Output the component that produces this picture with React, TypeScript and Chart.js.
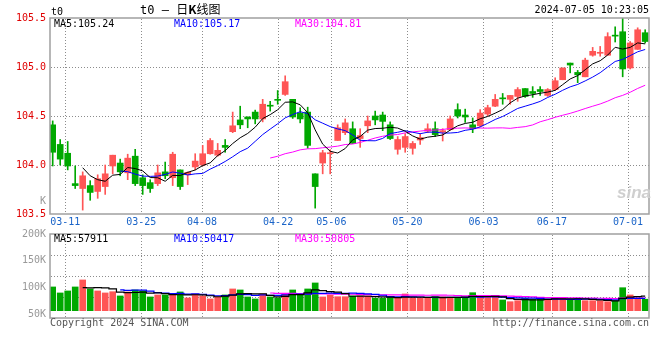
import React, { useEffect, useRef } from 'react';
import { Chart, registerables } from 'chart.js';

Chart.register(...registerables);

// ---- data ----
const OPEN = [104.41,104.21,104.12,103.81,103.76,103.79,103.73,103.78,103.99,104.02,
  103.92,104.09,103.87,103.82,103.81,103.93,103.87,103.95,103.90,103.98,
  104.00,104.115,104.10,104.20,104.34,104.46,104.49,104.54,104.47,104.61,
  104.665,104.72,104.67,104.53,104.54,103.91,104.02,104.115,104.25,104.33,
  104.37,104.27,104.40,104.50,104.51,104.41,104.16,104.18,104.17,104.255,
  104.345,104.37,104.335,104.36,104.565,104.51,104.41,104.40,104.52,104.60,
  104.685,104.67,104.70,104.78,104.75,104.77,104.71,104.77,104.87,105.04,
  104.945,104.90,105.12,105.14,105.12,105.325,105.36,104.99,105.18,105.35];
const HIGH = [104.45,104.26,104.24,103.99,103.93,103.84,103.90,104.00,104.10,104.06,
  104.11,104.16,103.90,103.85,104.00,104.03,104.13,103.95,103.93,104.115,
  104.20,104.27,104.22,104.26,104.54,104.60,104.49,104.56,104.67,104.65,
  104.76,104.91,104.67,104.585,104.59,103.91,104.15,104.156,104.41,104.47,
  104.44,104.37,104.50,104.55,104.54,104.44,104.29,104.32,104.24,104.32,
  104.42,104.44,104.37,104.50,104.625,104.57,104.48,104.565,104.61,104.72,
  104.73,104.71,104.79,104.78,104.80,104.80,104.78,104.89,104.99,105.04,
  104.965,105.09,105.20,105.21,105.35,105.41,105.52,105.26,105.40,105.38];
const LOW = [103.99,104.00,103.95,103.76,103.54,103.64,103.66,103.70,103.91,103.89,
  103.85,103.79,103.70,103.72,103.79,103.86,103.79,103.75,103.80,103.95,
  103.99,104.11,104.09,104.13,104.33,104.37,104.38,104.42,104.44,104.55,
  104.62,104.71,104.475,104.43,104.17,103.56,103.91,103.91,104.25,104.31,
  104.22,104.18,104.33,104.41,104.35,104.26,104.11,104.13,104.11,104.21,
  104.33,104.29,104.245,104.355,104.48,104.435,104.33,104.39,104.50,104.595,
  104.62,104.62,104.65,104.69,104.69,104.71,104.70,104.76,104.87,104.94,
  104.84,104.90,105.11,105.11,105.12,105.255,104.90,104.98,105.18,105.245];
const CLOSE = [104.13,104.06,103.99,103.79,103.89,103.72,103.86,103.91,104.10,103.93,
  104.07,103.81,103.79,103.76,103.92,103.89,104.11,103.78,103.925,104.04,
  104.115,104.25,104.15,104.18,104.40,104.41,104.47,104.47,104.62,104.60,
  104.66,104.85,104.49,104.47,104.20,103.78,104.125,104.125,104.38,104.43,
  104.22,104.30,104.45,104.46,104.445,104.27,104.26,104.29,104.22,104.28,
  104.37,104.31,104.35,104.47,104.50,104.49,104.37,104.53,104.585,104.67,
  104.675,104.71,104.77,104.70,104.73,104.75,104.77,104.86,104.99,105.02,
  104.92,105.07,105.16,105.15,105.31,105.315,104.98,105.245,105.38,105.26];
const VOLUME = [95000,71000,79000,95000,123000,87000,79000,71000,76000,59000,
  75000,83000,79000,55000,63000,63000,63000,75000,51000,67000,
  59000,47000,55000,63000,87000,83000,55000,47000,67000,55000,
  51000,67000,83000,67000,87000,111000,55000,63000,56000,56000,
  59000,59000,59000,50000,50000,54000,50000,67000,50000,50000,
  50000,56000,56000,54000,50000,54000,72000,54000,54000,54000,
  43000,36000,40000,50000,46000,46000,43000,50000,50000,46000,
  50000,40000,40000,40000,36000,40000,92000,63000,50000,46000];
const DATE_LABELS = ['03-11','03-25','04-08','04-22','05-06','05-20','06-03','06-17','07-01'];
const DATE_INDEX = [2, 12, 20, 30, 37, 47, 57, 66, 76];
const PRICE_TICKS = [103.5, 104.0, 104.5, 105.0, 105.5];
const VOL_TICKS = [50000, 100000, 150000, 200000];
const PRICE_LEGEND = ['MA5:105.24', 'MA10:105.17', 'MA30:104.81'];
const VOL_LEGEND = ['MA5:57911', 'MA10:50417', 'MA30:50805'];
const MA_PERIODS = [5, 10, 30];

// ---- styles ----
const MONO = "'DejaVu Sans Mono', 'Liberation Mono', monospace";
const UP = '#ff5555';
const DOWN = '#00a800';
const MA_COLORS = ['#000000', '#0000ff', '#ff00ff'];
const GRID = '#8c8c8c';

function movingAvg(src: number[], n: number) {
  const out: { x: number; y: number }[] = [];
  for (let i = n - 1; i < src.length; i++) {
    let s = 0;
    for (let j = i - n + 1; j <= i; j++) s += src[j];
    out.push({ x: i, y: s / n });
  }
  return out;
}

const framePlugin = {
  id: 'frame',
  afterDraw(chart: any) {
    const { ctx, chartArea } = chart;
    const { left, top, right, bottom } = chartArea;
    ctx.save();
    ctx.strokeStyle = '#a0a0a0';
    ctx.lineWidth = 1.5;
    ctx.strokeRect(left, top, right - left, bottom - top);
    ctx.restore();
  },
};

// dotted grid drawn from the scales' own ticks (1px dots, 3px period)
const makeGridPlugin = (ids: string[]) => ({
  id: 'dotgrid',
  beforeDatasetsDraw(chart: any) {
    const { ctx, chartArea } = chart;
    const { left, top, right, bottom } = chartArea;
    ctx.save();
    ctx.fillStyle = GRID;
    for (const id of ids) {
      const s = chart.scales[id];
      if (!s) continue;
      for (const t of s.ticks) {
        const p = Math.round(s.getPixelForValue(t.value));
        if (s.isHorizontal()) {
          if (p < left + 1 || p > right - 1) continue;
          for (let y = Math.ceil(top) + 1; y < bottom; y += 3) ctx.fillRect(p, y, 1, 1);
        } else {
          if (p < top + 1 || p > bottom - 1) continue;
          for (let x = Math.ceil(left) + 1; x < right; x += 3) ctx.fillRect(x, p, 1, 1);
        }
      }
    }
    ctx.restore();
  },
});

const colors = CLOSE.map((c, i) => (c >= OPEN[i] ? UP : DOWN));

export default function App() {
  const mainRef = useRef<HTMLCanvasElement>(null);
  const volRef = useRef<HTMLCanvasElement>(null);

  useEffect(() => {
    const xCandle = { type: 'linear', min: -0.36, max: 79.51, offset: false, display: false };
    const xDate = (showLabels: boolean) => ({
      type: 'linear',
      position: 'bottom',
      offset: false,
      min: 0,
      max: 78.77,
      afterBuildTicks: (s: any) => {
        s.ticks = DATE_INDEX.map((v) => ({ value: v }));
      },
      afterFit: (s: any) => {
        s.height = showLabels ? 18 : 0;
        s.paddingLeft = 0;
        s.paddingRight = 0;
      },
      ticks: {
        display: showLabels,
        autoSkip: false,
        maxRotation: 0,
        padding: 2,
        color: '#1a64c8',
        font: { family: MONO, size: 10 },
        callback: (_v: any, i: number) => DATE_LABELS[i],
      },
      grid: { display: false, drawTicks: false },
      border: { display: false },
    });

    const main = new Chart(mainRef.current!, {
      type: 'bar',
      data: {
        datasets: [
          ...MA_PERIODS.map((p, k) => ({
            type: 'line' as const,
            data: movingAvg(CLOSE, p),
            borderColor: MA_COLORS[k],
            borderWidth: 1,
            pointRadius: 0,
            order: 0,
            xAxisID: 'x',
            yAxisID: 'y',
          })),
          {
            type: 'bar' as const,
            data: LOW.map((l, i) => ({ x: i, y: [l, HIGH[i]] })),
            backgroundColor: colors,
            barThickness: 1,
            grouped: false,
            order: 2,
            xAxisID: 'x',
            yAxisID: 'y',
          },
          {
            type: 'bar' as const,
            data: OPEN.map((o, i) => ({ x: i, y: [o, CLOSE[i]] })),
            backgroundColor: colors,
            barThickness: 6,
            minBarLength: 1,
            grouped: false,
            order: 1,
            xAxisID: 'x',
            yAxisID: 'y',
          },
        ] as any,
      },
      options: {
        animation: false,
        responsive: false,
        devicePixelRatio: 1,
        layout: { padding: { top: 18, right: 11, left: 0, bottom: 0 } },
        plugins: { legend: { display: false }, tooltip: { enabled: false } },
        scales: {
          x: xCandle,
          xd: xDate(true),
          y: {
            type: 'linear',
            position: 'left',
            min: 103.5,
            max: 105.5,
            afterBuildTicks: (s: any) => {
              s.ticks = PRICE_TICKS.map((v) => ({ value: v }));
            },
            afterFit: (s: any) => {
              s.width = 50;
              s.paddingTop = 0;
              s.paddingBottom = 0;
            },
            ticks: {
              color: '#e00000',
              padding: 4,
              font: { family: MONO, size: 10 },
              callback: (v: any) => Number(v).toFixed(1),
            },
            grid: { display: false, drawTicks: false },
            border: { display: false },
          },
        } as any,
      },
      plugins: [makeGridPlugin(['y', 'xd']), framePlugin],
    });

    const vol = new Chart(volRef.current!, {
      type: 'bar',
      data: {
        datasets: [
          ...MA_PERIODS.map((p, k) => ({
            type: 'line' as const,
            data: movingAvg(VOLUME, p),
            borderColor: MA_COLORS[k],
            borderWidth: 1.2,
            pointRadius: 0,
            stepped: 'middle',
            order: 0,
            xAxisID: 'x',
            yAxisID: 'yv',
          })),
          {
            type: 'bar' as const,
            data: VOLUME.map((v, i) => ({ x: i, y: v })),
            backgroundColor: colors,
            barThickness: 6,
            order: 1,
            xAxisID: 'x',
            yAxisID: 'yv',
          },
        ] as any,
      },
      options: {
        animation: false,
        responsive: false,
        devicePixelRatio: 1,
        layout: { padding: { top: 8, right: 11, left: 0, bottom: 4 } },
        plugins: { legend: { display: false }, tooltip: { enabled: false } },
        scales: {
          x: xCandle,
          xd: xDate(false),
          yv: {
            type: 'linear',
            position: 'left',
            min: -29200,
            max: 306800,
            afterBuildTicks: (s: any) => {
              const q = (s.max - s.min) / 4;
              s.ticks = [0, 1, 2, 3, 4].map((k) => ({ value: s.min + k * q }));
            },
            afterFit: (s: any) => {
              s.width = 0;
              s.paddingTop = 0;
              s.paddingBottom = 0;
            },
            ticks: { display: false },
            grid: { display: false, drawTicks: false },
            border: { display: false },
          },
          yl: {
            type: 'linear',
            position: 'left',
            min: 43300,
            max: 200000,
            afterBuildTicks: (s: any) => {
              s.ticks = VOL_TICKS.map((v) => ({ value: v }));
            },
            afterFit: (s: any) => {
              s.width = 50;
              s.paddingTop = 0;
              s.paddingBottom = 0;
            },
            ticks: {
              color: '#999999',
              padding: 4,
              font: { family: MONO, size: 10 },
              callback: (v: any) => Math.round(Number(v) / 1000) + 'K',
            },
            grid: { display: false, drawTicks: false },
            border: { display: false },
          },
        } as any,
      },
      plugins: [makeGridPlugin(['yv', 'xd']), framePlugin],
    });

    return () => {
      main.destroy();
      vol.destroy();
    };
  }, []);

  const txt = (extra: React.CSSProperties): React.CSSProperties => ({
    position: 'absolute',
    font: `10px ${MONO}`,
    lineHeight: '10px',
    whiteSpace: 'pre',
    ...extra,
  });

  const legendX = [54, 174, 295];

  return (
    <div style={{ position: 'absolute', left: 0, top: 0, width: 660, height: 360, background: '#fff', overflow: 'hidden' }}>
      <canvas ref={mainRef} width={660} height={232} style={{ position: 'absolute', left: 0, top: 0 }} />
      <canvas ref={volRef} width={660} height={96} style={{ position: 'absolute', left: 0, top: 226 }} />

      <div style={txt({ left: 51, top: 7, color: '#000' })}>t0</div>
      <div style={txt({ left: 140, top: 3, font: `12px ${MONO}, 'Noto Sans CJK SC'`, lineHeight: '12px', color: '#000' })}>
        t0 – <span style={{ fontFamily: "'Noto Sans CJK SC'" }}>日</span>
        <span style={{ fontFamily: "'Noto Sans CJK SC'", fontWeight: 700 }}>K</span>
        <span style={{ fontFamily: "'Noto Sans CJK SC'" }}>线图</span>
      </div>
      <div style={txt({ right: 11, top: 5, color: '#000' })}>2024-07-05 10:23:05</div>

      {PRICE_LEGEND.map((t, i) => (
        <div key={'p' + i} style={txt({ left: legendX[i], top: 19, color: MA_COLORS[i] })}>{t}</div>
      ))}
      {VOL_LEGEND.map((t, i) => (
        <div key={'v' + i} style={txt({ left: legendX[i], top: 234, color: MA_COLORS[i] })}>{t}</div>
      ))}

      <div style={txt({ left: 40, top: 196, color: '#999' })}>K</div>
      <div style={txt({ left: 617, top: 184, font: "italic bold 17px 'Liberation Sans', sans-serif", lineHeight: '17px', color: '#cfcfcf' })}>sina</div>

      <div style={txt({ left: 50, top: 318, color: '#555' })}>Copyright 2024 SINA.COM</div>
      <div style={txt({ right: 11, top: 318, color: '#555' })}>http://finance.sina.com.cn</div>
    </div>
  );
}
